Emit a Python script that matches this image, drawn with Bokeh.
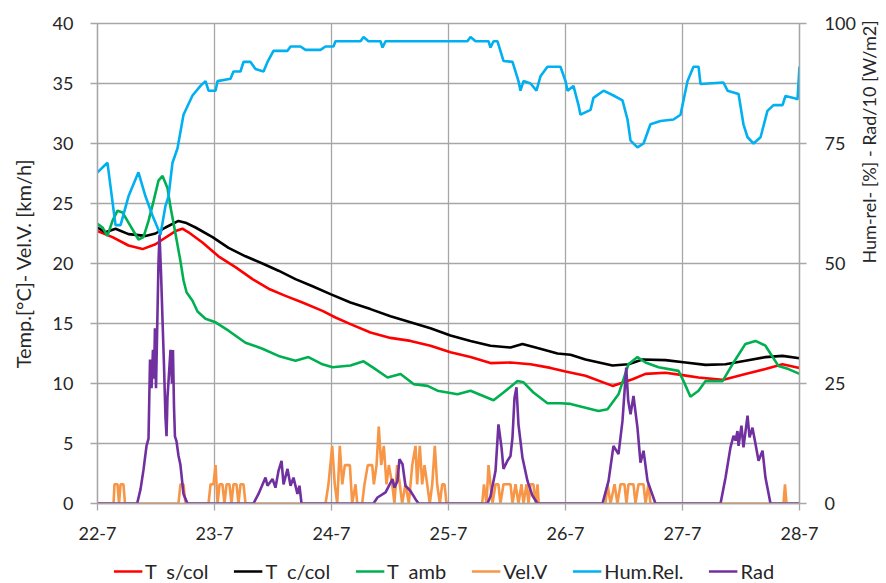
import math
from bokeh.plotting import figure
from bokeh.layouts import column
from bokeh.models import Range1d, LinearAxis, FixedTicker, Legend, LegendItem
from bokeh.embed import file_html
from bokeh.resources import INLINE

# ---------------- data (x in days since 22-7 00:00) ----------------
day_ticks = [0, 1, 2, 3, 4, 5, 6]
day_labels = ["22-7", "23-7", "24-7", "25-7", "26-7", "27-7", "28-7"]
left_ticks = [0, 5, 10, 15, 20, 25, 30, 35, 40]
right_ticks = [0, 25, 50, 75, 100]
series_names = ["T  s/col", "T  c/col", "T  amb", "Vel.V", "Hum.Rel.", "Rad"]
series_colors = ["#ff0000", "#000000", "#00b050", "#f79646", "#00b0f0", "#7030a0"]

ts_x = [0.000, 0.128, 0.265, 0.385, 0.496, 0.556, 0.667, 0.726, 0.778, 0.897, 1.034, 1.179,
        1.325, 1.462, 1.607, 1.752, 1.923, 2.034, 2.162, 2.333, 2.504, 2.675, 2.846, 3.017,
        3.188, 3.359, 3.530, 3.701, 3.872, 4.000, 4.171, 4.402, 4.573, 4.684, 4.855, 5.000,
        5.137, 5.342, 5.538, 5.709, 5.855, 6.000]
ts_y = [22.7, 22.2, 21.5, 21.2, 21.6, 22.0, 22.7, 22.9, 22.6, 21.75, 20.6, 19.7,
        18.7, 17.9, 17.3, 16.75, 16.05, 15.5, 14.95, 14.25, 13.8, 13.55, 13.15, 12.6,
        12.2, 11.7, 11.75, 11.6, 11.3, 11.0, 10.65, 9.8, 10.35, 10.8, 10.9, 10.7,
        10.5, 10.3, 10.8, 11.2, 11.6, 11.3]

tc_x = [0.000, 0.068, 0.154, 0.265, 0.410, 0.496, 0.581, 0.692, 0.752, 0.838, 0.983, 1.120,
        1.265, 1.410, 1.547, 1.692, 1.838, 1.991, 2.162, 2.333, 2.504, 2.675, 2.846, 3.017,
        3.188, 3.359, 3.530, 3.632, 3.761, 3.932, 4.043, 4.171, 4.402, 4.538, 4.658, 4.855,
        5.026, 5.197, 5.368, 5.538, 5.709, 5.855, 6.000]
tc_y = [23.0, 22.6, 22.9, 22.45, 22.3, 22.5, 23.0, 23.55, 23.4, 23.0, 22.2, 21.3,
        20.6, 20.0, 19.4, 18.7, 18.1, 17.45, 16.75, 16.2, 15.6, 15.1, 14.6, 14.0,
        13.55, 13.15, 13.0, 13.3, 12.95, 12.5, 12.4, 12.0, 11.5, 11.6, 12.0, 11.95,
        11.75, 11.55, 11.6, 11.9, 12.2, 12.3, 12.1]

ta_x = [0.000, 0.043, 0.085, 0.128, 0.171, 0.214, 0.265, 0.350, 0.393, 0.436, 0.479, 0.521,
        0.556, 0.598, 0.624, 0.667, 0.709, 0.735, 0.761, 0.812, 0.855, 0.923, 1.009, 1.120,
        1.265, 1.410, 1.547, 1.692, 1.803, 1.923, 2.009, 2.162, 2.274, 2.359, 2.479, 2.590,
        2.701, 2.821, 2.906, 3.077, 3.188, 3.385, 3.470, 3.590, 3.641, 3.726, 3.846, 3.957,
        4.043, 4.145, 4.282, 4.359, 4.453, 4.538, 4.615, 4.684, 4.795, 4.966, 5.009, 5.068,
        5.137, 5.197, 5.342, 5.427, 5.538, 5.624, 5.709, 5.821, 5.906, 6.000]
ta_y = [23.3, 23.0, 22.3, 23.55, 24.4, 24.25, 23.4, 22.0, 22.2, 23.55, 25.2, 26.9,
        27.3, 26.3, 24.7, 22.45, 20.2, 18.6, 17.6, 16.9, 16.0, 15.4, 15.1, 14.4,
        13.4, 12.9, 12.3, 11.9, 12.2, 11.6, 11.35, 11.5, 11.85, 11.3, 10.5, 10.8,
        9.95, 9.8, 9.4, 9.1, 9.4, 8.6, 9.25, 10.2, 10.1, 9.25, 8.35, 8.35,
        8.3, 8.05, 7.7, 7.85, 9.1, 11.6, 12.2, 11.75, 11.35, 11.05, 10.2, 8.9,
        9.4, 10.2, 10.2, 11.6, 13.3, 13.55, 13.15, 11.45, 11.2, 10.8]

vel_x = [0.000, 0.137, 0.145, 0.171, 0.184, 0.197, 0.222, 0.235, 0.692, 0.709, 0.735, 0.752,
         0.949, 0.966, 0.991, 1.009, 1.026, 1.043, 1.068, 1.085, 1.103, 1.128, 1.145, 1.162,
         1.188, 1.205, 1.222, 1.248, 1.265, 1.949, 1.974, 2.006, 2.028, 2.049, 2.071, 2.092,
         2.114, 2.157, 2.177, 2.205, 2.220, 2.262, 2.282, 2.310, 2.348, 2.362, 2.385, 2.404,
         2.425, 2.447, 2.470, 2.490, 2.519, 2.538, 2.561, 2.584, 2.604, 2.632, 2.661, 2.690,
         2.718, 2.732, 2.755, 2.775, 2.795, 2.818, 2.840, 2.861, 2.883, 2.903, 2.926, 2.946,
         2.966, 2.983, 3.288, 3.303, 3.325, 3.342, 3.359, 3.376, 3.402, 3.427, 3.444, 3.470,
         3.530, 3.547, 3.573, 3.598, 3.624, 3.641, 3.667, 3.684, 3.701, 3.726, 3.744, 3.761,
         3.771, 4.342, 4.359, 4.385, 4.419, 4.444, 4.470, 4.504, 4.521, 4.538, 4.581, 4.598,
         4.624, 4.667, 4.684, 4.709, 4.726, 5.863, 5.876, 5.889, 6.000]
vel_y = [0, 0, 1.6, 1.6, 0, 1.6, 1.6, 0, 0, 1.6, 1.6, 0,
         0, 1.6, 1.6, 3.2, 0, 1.6, 1.6, 0, 1.6, 1.6, 0, 1.6,
         1.6, 0, 1.6, 1.6, 0, 0, 1.6, 4.8, 1.6, 0, 4.8, 1.6,
         3.2, 3.2, 0, 1.6, 0, 0, 1.6, 3.2, 3.2, 1.6, 3.2, 6.4,
         3.2, 4.8, 1.6, 3.2, 1.6, 0, 3.2, 1.6, 0, 1.6, 0, 3.2,
         4.8, 1.6, 4.8, 1.6, 3.2, 1.6, 0, 1.6, 4.8, 1.6, 0, 1.6,
         1.6, 0, 0, 1.6, 0, 3.2, 1.6, 0, 1.6, 1.6, 0, 1.6,
         1.6, 0, 1.6, 0, 1.6, 0, 1.6, 0, 1.6, 1.6, 0, 1.6,
         0, 0, 1.6, 0, 1.6, 0, 1.6, 1.6, 0, 1.6, 1.6, 0,
         1.6, 1.6, 0, 1.6, 0, 0, 1.6, 0, 0]

hum_x = [0.000, 0.085, 0.154, 0.197, 0.265, 0.350, 0.410, 0.470, 0.538, 0.581, 0.607, 0.641,
         0.684, 0.735, 0.812, 0.880, 0.923, 0.949, 1.009, 1.026, 1.137, 1.162, 1.222, 1.248,
         1.308, 1.350, 1.419, 1.453, 1.504, 1.624, 1.650, 1.735, 1.778, 1.906, 1.949, 2.017,
         2.034, 2.248, 2.274, 2.316, 2.419, 2.436, 2.462, 3.162, 3.188, 3.231, 3.342, 3.359,
         3.385, 3.419, 3.470, 3.547, 3.598, 3.615, 3.641, 3.701, 3.752, 3.786, 3.846, 3.957,
         4.000, 4.017, 4.068, 4.111, 4.128, 4.214, 4.239, 4.325, 4.410, 4.487, 4.530, 4.556,
         4.615, 4.667, 4.726, 4.812, 4.923, 4.983, 5.043, 5.094, 5.137, 5.154, 5.350, 5.385,
         5.479, 5.521, 5.556, 5.607, 5.667, 5.726, 5.778, 5.855, 5.880, 5.949, 5.983, 6.000]
hum_y = [69, 71, 58, 58, 64, 69, 64, 60, 56, 62, 64, 71,
         74, 81, 85, 87, 88, 86, 86, 88, 88.5, 90, 90, 92,
         92, 90.5, 90, 92, 94.3, 94.3, 95.2, 95.2, 94.5, 94.5, 95.2, 95.2,
         96.3, 96.3, 97.2, 96.3, 96.3, 95, 96.3, 96.3, 97.2, 96.3, 96.3, 95,
         96.3, 96.3, 92.2, 92, 88, 86, 88, 87.5, 86, 89, 91, 91,
         88, 86, 87, 83, 81, 82, 84.5, 86, 85, 84, 80, 75.6,
         74.2, 75, 79, 79.7, 80, 81, 88, 91, 91, 87.4, 87.7, 86,
         85.3, 79, 76.3, 75, 76.3, 81.8, 83, 83, 84.9, 84.5, 84.2, 91]

rad_x = [0.000, 0.339, 0.368, 0.393, 0.419, 0.436, 0.449, 0.462, 0.474, 0.483, 0.491, 0.500,
         0.509, 0.521, 0.530, 0.543, 0.556, 0.568, 0.581, 0.590, 0.598, 0.611, 0.624, 0.637,
         0.645, 0.654, 0.662, 0.675, 0.692, 0.709, 0.735, 0.769,
         1.333, 1.376, 1.436, 1.453, 1.496, 1.521, 1.547, 1.573, 1.590, 1.624, 1.650, 1.675,
         1.709, 1.726, 1.744,
         2.359, 2.393, 2.462, 2.521, 2.538, 2.564, 2.581, 2.607, 2.632, 2.675, 2.718, 2.744,
         3.333, 3.359, 3.402, 3.427, 3.453, 3.470, 3.504, 3.530, 3.547, 3.564, 3.581, 3.598,
         3.632, 3.675, 3.718, 3.761,
         4.316, 4.368, 4.410, 4.453, 4.487, 4.519, 4.536, 4.556, 4.581, 4.615, 4.641, 4.667,
         4.701, 4.769,
         5.325, 5.368, 5.410, 5.436, 5.453, 5.470, 5.479, 5.504, 5.521, 5.556, 5.573, 5.598,
         5.624, 5.650, 5.684, 5.709, 5.752, 6.000]
rad_y = [0, 0, 3, 7, 12, 13.5, 30, 24, 32, 26, 36.5, 24,
         35, 50, 56, 48, 38, 29, 18, 14, 22, 27, 32, 25,
         32, 20, 14, 13, 10, 8, 2, 0,
         0, 2, 5.4, 3.7, 5.1, 3.3, 6.8, 8.9, 4, 7.2, 3.7, 5.4,
         2, 3.7, 0,
         0, 1.25, 2.3, 5.1, 3.3, 4.7, 9.25, 8.2, 3.7, 2.6, 0.9, 0,
         0, 1.5, 6.8, 16.5, 11.7, 7.2, 8.9, 9.9, 13.75, 22, 24.2, 16.5,
         9.6, 4.7, 1.6, 0,
         0, 4.7, 12, 10.3, 17.2, 28.3, 21.4, 18.6, 22.4, 15.8, 8.5, 11,
         4.7, 0,
         0, 5.4, 11.7, 14.1, 13.1, 15.1, 12, 16.2, 11.7, 18.3, 13.75, 15.8,
         12.4, 8.9, 11, 5.4, 0, 0]

series = [(ts_x, ts_y), (tc_x, tc_y), (ta_x, ta_y), (vel_x, vel_y), (hum_x, hum_y), (rad_x, rad_y)]

# ---------------- main figure ----------------
FONT = "Lato"
GRID = "#a6a6a6"
TXT = "#262626"
W = 2.6

p = figure(frame_width=702, frame_height=480, output_backend="svg", toolbar_location=None,
           x_range=Range1d(0, 6), y_range=Range1d(0, 40),
           min_border_left=97, min_border_right=85, min_border_top=23, min_border_bottom=50)
p.outline_line_color = GRID
p.outline_line_width = 1.3
p.background_fill_color = "white"
p.border_fill_color = "white"

p.extra_y_ranges = {"right": Range1d(0, 100)}

p.xaxis.ticker = FixedTicker(ticks=day_ticks)
p.xaxis.major_label_overrides = {t: l for t, l in zip(day_ticks, day_labels)}
p.yaxis.ticker = FixedTicker(ticks=left_ticks)
p.yaxis.axis_label = "Temp.[°C]- Vel.V. [km/h]"

raxis = LinearAxis(y_range_name="right", ticker=FixedTicker(ticks=right_ticks),
                   axis_label="Hum-rel- [%]  - Rad/10 [W/m2]")
p.add_layout(raxis, "right")

for ax in [p.xaxis[0], p.yaxis[0], raxis]:
    ax.axis_line_color = GRID
    ax.axis_line_width = 1.3
    ax.major_tick_line_color = GRID
    ax.major_tick_line_width = 1.3
    ax.major_tick_out = 7
    ax.major_tick_in = 0
    ax.minor_tick_line_color = None
    ax.major_label_text_font = FONT
    ax.major_label_text_font_size = "18px"
    ax.major_label_text_color = TXT
    ax.axis_label_text_font = FONT
    ax.axis_label_text_font_size = "20px"
    ax.axis_label_text_font_style = "normal"
    ax.axis_label_text_color = TXT

raxis.axis_label_text_font_size = "18px"
p.xaxis.major_label_standoff = 16
p.yaxis.major_label_standoff = 17
raxis.major_label_standoff = 18
p.yaxis.axis_label_standoff = 15
raxis.axis_label_standoff = 10
try:
    raxis.axis_label_orientation = math.pi / 2
except Exception:
    pass

p.xgrid.ticker = FixedTicker(ticks=day_ticks)
p.ygrid.ticker = FixedTicker(ticks=left_ticks)
for g in [p.xgrid[0], p.ygrid[0]]:
    g.grid_line_color = GRID
    g.grid_line_width = 1.3

for i, ((xs, ys), col) in enumerate(zip(series, series_colors)):
    if i >= 4:
        p.line(xs, ys, line_color=col, line_width=W, y_range_name="right")
    else:
        p.line(xs, ys, line_color=col, line_width=W)

# ---------------- legend strip below the chart ----------------
# the same series are drawn here only to style the legend keys; the range keeps them out of view
lg = figure(width=884, height=30, output_backend="svg", toolbar_location=None,
            x_range=Range1d(0, 6), y_range=Range1d(-200, -199),
            min_border_left=50, min_border_right=0, min_border_top=6, min_border_bottom=0)
lg.axis.visible = False
lg.xgrid.visible = False
lg.ygrid.visible = False
lg.outline_line_color = None
lg.background_fill_color = "white"
lg.border_fill_color = "white"

items = []
for name, col, (xs, ys) in zip(series_names, series_colors, series):
    r = lg.line(xs, ys, line_color=col, line_width=W)
    items.append(LegendItem(label=name, renderers=[r]))

legend = Legend(items=items, orientation="horizontal", location="center")
legend.label_text_font = FONT
legend.label_text_font_size = "20px"
legend.label_text_color = TXT
legend.glyph_width = 29
legend.glyph_height = 20
legend.label_standoff = 3
legend.spacing = 25
legend.padding = 0
legend.margin = 0
legend.border_line_color = None
legend.background_fill_alpha = 0
lg.add_layout(legend, "center")

open("out.html", "w").write(file_html(column(p, lg, spacing=0), INLINE))
